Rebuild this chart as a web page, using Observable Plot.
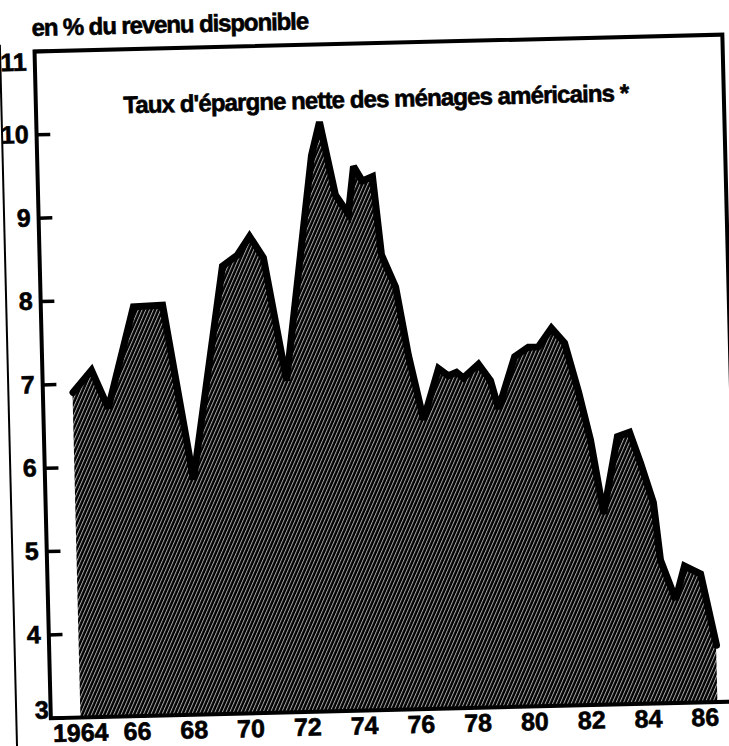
<!DOCTYPE html>
<html><head><meta charset="utf-8">
<script src="https://cdn.jsdelivr.net/npm/d3@7"></script>
<script src="https://cdn.jsdelivr.net/npm/@observablehq/plot@0.6"></script>
<style>
html,body{margin:0;padding:0;background:#fff;overflow:hidden;width:729px;height:746px;}
#page{position:absolute;left:0;top:0;width:740px;height:760px;transform-origin:364.5px 373px;transform:rotate(-1.4deg);font-family:"Liberation Sans",Arial,Helvetica,sans-serif;color:#000;}
#unit{position:absolute;left:40px;top:8px;font-size:24px;font-weight:bold;letter-spacing:-1.1px;line-height:1;white-space:nowrap;-webkit-text-stroke:0.6px #000;}
#neighbour{position:absolute;left:7px;top:36px;height:730px;border-left:2.5px solid #000;}
#chart{position:absolute;left:0;top:0;}
#chart svg text{stroke:#000;stroke-width:0.6px;}
</style></head><body>
<div id="page"><div id="neighbour"></div><div id="unit">en % du revenu disponible</div><div id="chart"></div></div>
<script>
// decimal years and net saving rate (% of disposable income)
const periods = [1964.02, 1964.69, 1965.25, 1966.22, 1967.25, 1968.19, 1969.39, 1969.93, 1970.37, 1970.84,
  1971.55, 1972.62, 1972.93, 1973.43, 1973.87, 1974.09, 1974.39, 1974.75, 1975.00, 1975.47,
  1975.86, 1976.34, 1976.91, 1977.25, 1977.54, 1977.78, 1978.32, 1978.73, 1978.99, 1979.60,
  1980.09, 1980.44, 1980.92, 1981.37, 1981.82, 1982.20, 1982.60, 1983.15, 1983.58, 1983.94,
  1984.36, 1984.56, 1985.06, 1985.40, 1985.96, 1986.46];
const rates = [6.90, 7.16, 6.70, 7.91, 7.92, 5.82, 8.37, 8.50, 8.72, 8.46,
  6.98, 9.67, 10.07, 9.19, 8.96, 9.53, 9.35, 9.40, 8.46, 8.07,
  7.25, 6.47, 7.08, 6.99, 7.03, 6.96, 7.12, 6.92, 6.58, 7.20,
  7.31, 7.31, 7.53, 7.35, 6.76, 6.18, 5.29, 6.21, 6.26, 5.89,
  5.41, 4.72, 4.24, 4.64, 4.54, 3.68];
const yearTicks = [1964, 1966, 1968, 1970, 1972, 1974, 1976, 1978, 1980, 1982, 1984, 1986];
const yearLabels = ["1964", "66", "68", "70", "72", "74", "76", "78", "80", "82", "84", "86"];
const rateTicks = [3, 4, 5, 6, 7, 8, 9, 10, 11];
const title = "Taux d'épargne nette des ménages américains *";
const xDomain = [1962.96, 1987.19];
const yDomain = [3, 11];
const tickYears = 0.5; // length of the inward y ticks, in x units

const data = periods.map((t, i) => ({t, v: rates[i]}));
const font = {fontSize: 25, fontWeight: "bold", label: null, tickFormat: d => String(d), tickSize: 0, tickPadding: 8};

const chart = Plot.plot({
  width: 740, height: 746,
  marginLeft: 42, marginRight: 10, marginTop: 43, marginBottom: 36,
  x: {domain: xDomain},
  y: {domain: yDomain},
  style: {fontFamily: "'Liberation Sans', Arial, Helvetica, sans-serif", background: "transparent", color: "#000", overflow: "visible"},
  marks: [
    Plot.areaY(data, {x: "t", y1: yDomain[0], y2: "v", fill: "url(#hatch)"}),
    Plot.lineY(data, {x: "t", y: "v", stroke: "#000", strokeWidth: 7, strokeLinejoin: "miter", strokeMiterlimit: 3}),
    Plot.frame({stroke: "#000", strokeWidth: 4}),
    // short inward tick marks on the left edge
    Plot.ruleY(rateTicks, {y: d => d, x1: xDomain[0], x2: xDomain[0] + tickYears, stroke: "#000", strokeWidth: 3.5}),
    Plot.axisY(rateTicks.slice(1, -1), font),
    Plot.axisY(rateTicks.slice(-1), {...font, dy: 11}),
    Plot.axisY(rateTicks.slice(0, 1), {...font, dy: -8, dx: 6}),
    Plot.axisX(yearTicks, {tickSize: 0, tickPadding: 6, fontSize: 25, fontWeight: "bold", label: null,
      tickFormat: d => yearLabels[yearTicks.indexOf(d)]}),
    Plot.text([title], {frameAnchor: "top", dy: 47, dx: -4, fontSize: 24, fontWeight: "bold"})
  ]
});

// diagonal hatching used as the area fill
const defs = d3.select(chart).insert("defs", ":first-child");
const pat = defs.append("pattern").attr("id", "hatch").attr("patternUnits", "userSpaceOnUse")
  .attr("width", 3.4).attr("height", 3.4).attr("patternTransform", "rotate(25)");
pat.append("rect").attr("width", 3.4).attr("height", 3.4).attr("fill", "#000");
pat.append("rect").attr("width", 1).attr("height", 3.4).attr("fill", "#fff").attr("fill-opacity", 0.65);
d3.select(chart).selectAll("g[aria-label='text'] text").attr("letter-spacing", "-0.9px");

document.getElementById("chart").appendChild(chart);
</script>
</body></html>
